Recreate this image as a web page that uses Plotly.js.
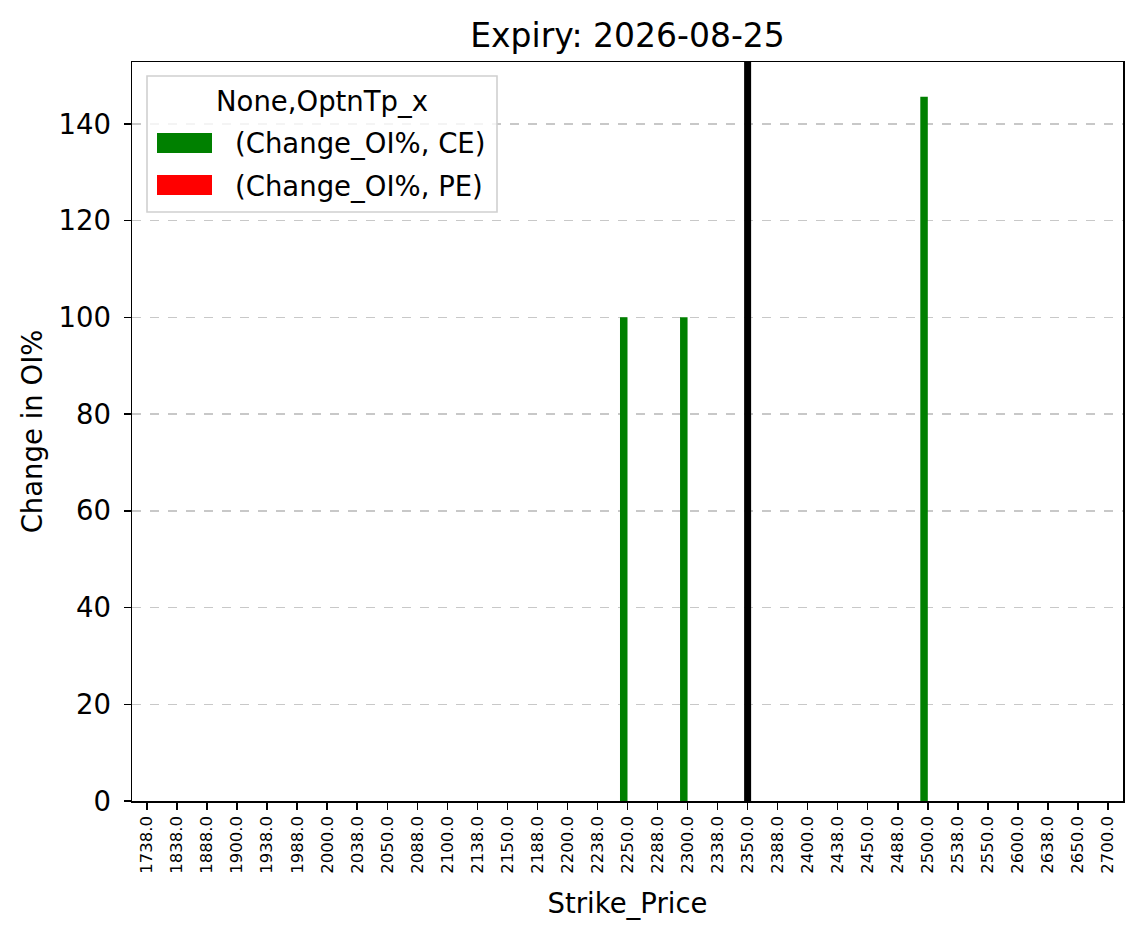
<!DOCTYPE html>
<html>
<head>
<meta charset="utf-8">
<script src="https://cdn.plot.ly/plotly-3.0.1.min.js"></script>
<style>html,body{margin:0;padding:0;background:#fff;}#chart{width:1143px;height:939px;}</style>
</head>
<body>
<div id="chart"></div>
<script>
const strikes = ["1738.0","1838.0","1888.0","1900.0","1938.0","1988.0","2000.0","2038.0","2050.0","2088.0","2100.0","2138.0","2150.0","2188.0","2200.0","2238.0","2250.0","2288.0","2300.0","2338.0","2350.0","2388.0","2400.0","2438.0","2450.0","2488.0","2500.0","2538.0","2550.0","2600.0","2638.0","2650.0","2700.0"];
const ceChange = [0,0,0,0,0,0,0,0,0,0,0,0,0,0,0,0,100,0,100,0,0,0,0,0,0,0,145.6,0,0,0,0,0,0];
const peChange = [0,0,0,0,0,0,0,0,0,0,0,0,0,0,0,0,0,0,0,0,0,0,0,0,0,0,0,0,0,0,0,0,0];
const seriesNames = ["(Change_OI%, CE)", "(Change_OI%, PE)"];
const seriesColors = ["#008000", "#ff0000"];
const legendTitle = "None,OptnTp_x";
const spotStrike = "2350.0";
const titleText = "Expiry: 2026-08-25";
const yTicks = [0,20,40,60,80,100,120,140];

const FONT = "DejaVu Sans, sans-serif";
const idx = strikes.map((s, i) => i);
const traces = [
  {type:"bar", x:idx, y:ceChange, name:seriesNames[0], marker:{color:seriesColors[0], line:{width:0}}, offset:-0.25, width:0.25, showlegend:false},
  {type:"bar", x:idx, y:peChange, name:seriesNames[1], marker:{color:seriesColors[1], line:{width:0}}, offset:0, width:0.25, showlegend:false}
];

// plot area in pixels: left 132, top 62, width 991, height 739
const L = 132, T = 62, W = 991, H = 739;
const px = v => (v - L) / W;
const py = v => 1 - (v - T) / H;
const spotIdx = strikes.indexOf(spotStrike);

const shapes = [
  {type:"line", xref:"x", yref:"paper", x0:spotIdx, x1:spotIdx, y0:0, y1:1, line:{color:"#000", width:7}, layer:"above"},
  // legend frame
  {type:"rect", xref:"paper", yref:"paper", x0:px(147), x1:px(497), y0:py(212), y1:py(76),
   fillcolor:"rgba(255,255,255,0.8)", line:{color:"#d0d0d0", width:1.6}, layer:"above"},
  {type:"rect", xref:"paper", yref:"paper", x0:px(157), x1:px(212), y0:py(153), y1:py(133),
   fillcolor:seriesColors[0], line:{width:0}, layer:"above"},
  {type:"rect", xref:"paper", yref:"paper", x0:px(157), x1:px(212), y0:py(195), y1:py(175),
   fillcolor:seriesColors[1], line:{width:0}, layer:"above"}
];
const annotations = [
  {xref:"paper", yref:"paper", x:px(322), y:py(101), text:legendTitle, showarrow:false, xanchor:"center", yanchor:"middle",
   font:{size:27.5, family:FONT, color:"#000"}},
  {xref:"paper", yref:"paper", x:px(233), y:py(143), text:seriesNames[0], showarrow:false, xanchor:"left", yanchor:"middle",
   font:{size:27.5, family:FONT, color:"#000"}},
  {xref:"paper", yref:"paper", x:px(233), y:py(186), text:seriesNames[1], showarrow:false, xanchor:"left", yanchor:"middle",
   font:{size:27.5, family:FONT, color:"#000"}}
];

const layout = {
  width:1143, height:939,
  margin:{l:L, r:1143-L-W, t:T, b:939-T-H, pad:0},
  paper_bgcolor:"#ffffff", plot_bgcolor:"#ffffff",
  font:{family:FONT, color:"#000"},
  barmode:"overlay",
  title:{text:titleText, font:{size:33, family:FONT, color:"#000"}, x:0.5, xref:"paper", y:1, yref:"paper", yanchor:"bottom", pad:{b:15}},
  xaxis:{range:[-0.5,32.5], tickvals:idx, ticktext:strikes,
    showline:true, linecolor:"#000", linewidth:1.5, mirror:true,
    ticks:"outside", ticklen:7, tickwidth:1.5, tickcolor:"#000",
    tickangle:-90, tickfont:{size:16.5, family:FONT}, showgrid:false, zeroline:false,
    title:{text:"Strike_Price", font:{size:27.5, family:FONT}, standoff:21}},
  yaxis:{range:[0,152.8], tickvals:yTicks, ticktext:yTicks.map(String),
    showline:true, linecolor:"#000", linewidth:1.5, mirror:true,
    ticks:"outside", ticklen:7, tickwidth:1.5, tickcolor:"#000",
    tickfont:{size:27.5, family:FONT}, ticklabelstandoff:7,
    showgrid:true, gridcolor:"#c8c8c8", griddash:"dash", gridwidth:1.5, zeroline:false,
    title:{text:"Change in OI%", font:{size:27.5, family:FONT}, standoff:8}},
  shapes:shapes,
  annotations:annotations,
  showlegend:false
};
Plotly.newPlot("chart", traces, layout, {displayModeBar:false, staticPlot:true});
</script>
</body>
</html>
